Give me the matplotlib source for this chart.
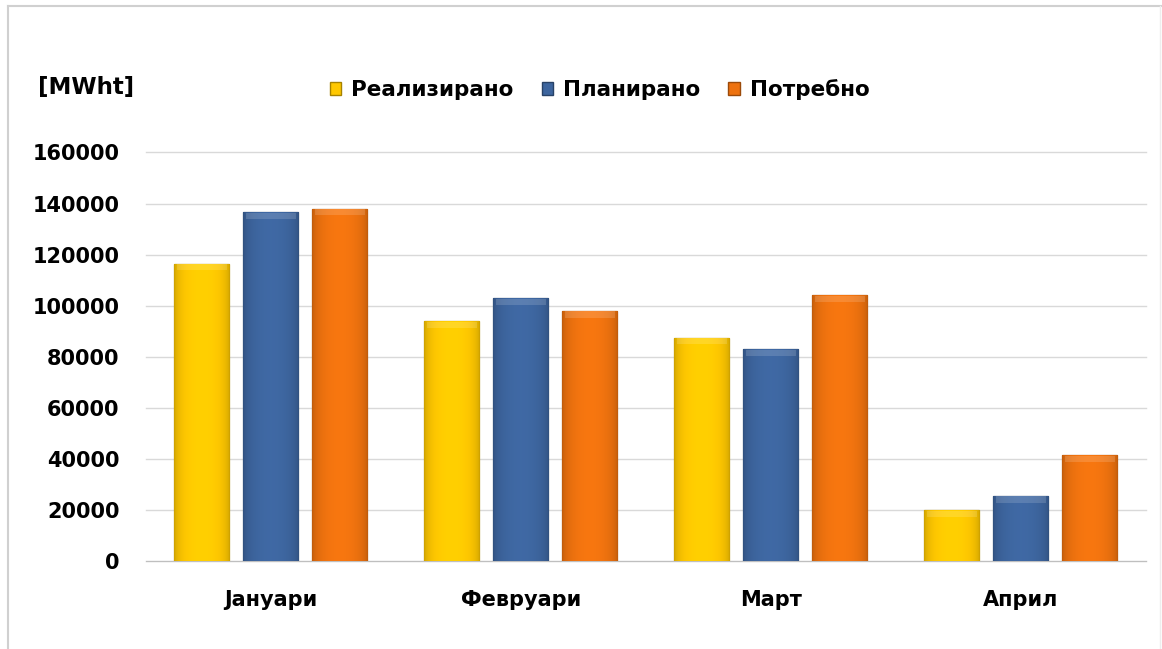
import numpy as np
import matplotlib.pyplot as plt
from matplotlib.colors import to_rgb
from matplotlib.patches import Patch
from matplotlib.lines import Line2D

# Monthly energy, MWh
months = ['Јануари', 'Февруари', 'Март', 'Април']
series = ['Реализирано', 'Планирано', 'Потребно']
realized = [116500, 94000, 87500, 20000]
planned = [136500, 103000, 83000, 25500]
needed = [138000, 98000, 104000, 41500]
colors = ['#ffc800', '#3d659e', '#ee720f']
yticks = [0, 20000, 40000, 60000, 80000, 100000, 120000, 140000, 160000]

plt.rcParams['font.family'] = ['DejaVu Sans']

fig = plt.figure(figsize=(11.62, 6.49), dpi=100)
ax = fig.add_axes([0.1256, 0.1356, 0.8606, 0.6295])

x = np.arange(len(months))
width = 0.22
step = 0.276


def shaded_bar(xc, h, color):
    bar = ax.bar(xc, h, width, color=color, edgecolor=np.array(to_rgb(color)) * 0.65,
                 linewidth=0.9, zorder=3)[0]
    # horizontal shading: darker sides, lighter middle
    t = np.linspace(-1, 1, 64)
    prof = 0.8 + 0.24 * (1 - t ** 2) ** 0.5
    base = np.array(to_rgb(color))
    img = np.clip(base[None, :] * prof[:, None], 0, 1)[None, :, :]
    im = ax.imshow(img, extent=[xc - width / 2, xc + width / 2, 0, h],
                   aspect='auto', zorder=3.5, interpolation='bicubic')
    im.set_clip_path(bar)
    # light bevel along the top edge
    bevel = 2400
    ax.bar(xc, bevel, width * 0.9, bottom=h - bevel * 1.1,
           color='white', alpha=0.15, linewidth=0, zorder=4)


for i, vals in enumerate([realized, planned, needed]):
    for xi, v in zip(x, vals):
        shaded_bar(xi + (i - 1) * step, v, colors[i])

ax.set_xlim(-0.5, len(months) - 0.5)
ax.set_ylim(0, 160000)
ax.set_yticks(yticks)
ax.set_yticklabels([str(v) for v in yticks], fontsize=15, fontweight='bold')
ax.set_xticks(x)
ax.set_xticklabels(months, fontsize=15, fontweight='bold')
ax.tick_params(axis='y', length=0, pad=19)
ax.tick_params(axis='x', length=0, pad=21)
ax.grid(axis='y', color='#d9d9d9', linewidth=1, zorder=0)
ax.set_axisbelow(True)
for s in ['top', 'right', 'left']:
    ax.spines[s].set_visible(False)
ax.spines['bottom'].set_color('#bfbfbf')
for gl in ax.get_ygridlines():
    gl.set_clip_on(False)

fig.text(0.033, 0.865, '[MWht]', fontsize=16.5, fontweight='bold', ha='left', va='center')

handles = [Patch(facecolor=c, edgecolor=np.array(to_rgb(c)) * 0.65) for c in colors]
fig.legend(handles, series, loc='center', bbox_to_anchor=(0.516, 0.862), ncol=3,
           frameon=False, prop={'size': 15.5, 'weight': 'bold'},
           handlelength=0.55, handleheight=0.55, handletextpad=0.45, columnspacing=1.3)

# thin frame around the chart area
fig.add_artist(Line2D([0.0065, 0.0065], [0, 0.99], color='#d0d0d0', lw=1.5))
fig.add_artist(Line2D([0.0065, 0.999], [0.99, 0.99], color='#d0d0d0', lw=1.5))
fig.add_artist(Line2D([0.998, 0.998], [0, 0.99], color='#eeeeee', lw=1))

fig.savefig('out.png', dpi=100)
